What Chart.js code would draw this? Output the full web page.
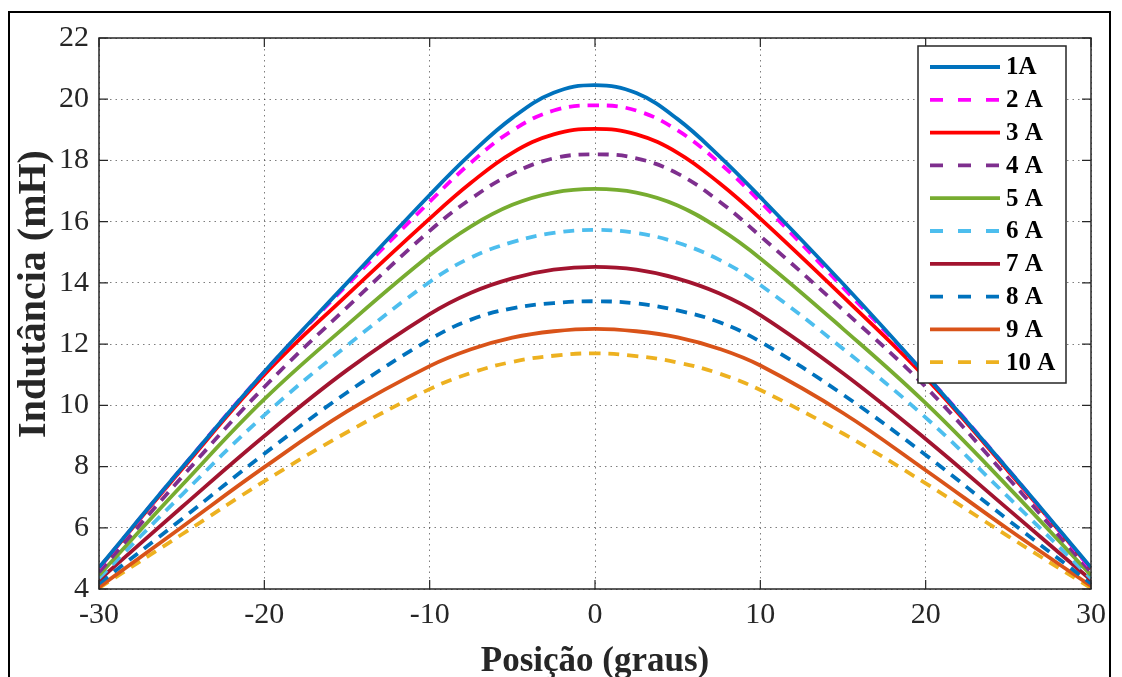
<!DOCTYPE html>
<html>
<head>
<meta charset="utf-8">
<script src="https://cdn.jsdelivr.net/npm/chart.js@4.4.1/dist/chart.umd.min.js"></script>
<style>
  html, body { margin: 0; padding: 0; background: #fff; }
  #wrap { position: relative; width: 1122px; height: 677px; }
</style>
</head>
<body>
<div id="wrap"><canvas id="inductanceChart" width="1122" height="677"></canvas></div>
<script>
// rotor position (degrees)
const positions = [-30, -25, -20, -15, -10, -7.5, -5, -2.5, 0, 2.5, 5, 7.5, 10, 15, 20, 25, 30];

// inductance (mH) per current level
const ind1A  = [4.70, 7.95, 11.10, 14.00, 16.87, 18.22, 19.39, 20.21, 20.46, 20.20, 19.35, 18.15, 16.80, 13.97, 11.00, 7.90, 4.70];
const ind2A  = [4.68, 7.95, 11.10, 13.93, 16.65, 17.93, 18.98, 19.63, 19.80, 19.63, 18.98, 17.93, 16.65, 13.85, 11.00, 7.90, 4.65];
const ind3A  = [4.68, 7.90, 11.00, 13.60, 16.10, 17.27, 18.25, 18.85, 19.03, 18.85, 18.25, 17.27, 16.10, 13.55, 10.90, 7.85, 4.68];
const ind4A  = [4.55, 7.65, 10.60, 13.20, 15.70, 16.75, 17.57, 18.07, 18.20, 18.07, 17.57, 16.67, 15.53, 13.12, 10.60, 7.62, 4.55];
const ind5A  = [4.45, 7.38, 10.20, 12.62, 14.90, 15.85, 16.55, 16.95, 17.07, 16.95, 16.53, 15.78, 14.80, 12.50, 10.07, 7.33, 4.45];
const ind6A  = [4.35, 7.07, 9.68, 11.95, 14.03, 14.83, 15.33, 15.63, 15.73, 15.63, 15.31, 14.76, 13.93, 11.85, 9.60, 7.00, 4.35];
const ind7A  = [4.29, 6.67, 9.00, 11.15, 12.98, 13.68, 14.15, 14.43, 14.52, 14.43, 14.14, 13.66, 12.95, 11.05, 8.90, 6.60, 4.29];
const ind8A  = [4.18, 6.28, 8.42, 10.42, 12.15, 12.80, 13.17, 13.34, 13.40, 13.33, 13.10, 12.72, 12.08, 10.35, 8.38, 6.25, 4.18];
const ind9A  = [4.06, 6.02, 7.98, 9.80, 11.28, 11.83, 12.21, 12.42, 12.50, 12.42, 12.22, 11.85, 11.30, 9.75, 7.88, 5.95, 4.10];
const ind10A = [4.03, 5.78, 7.52, 9.12, 10.53, 11.06, 11.42, 11.62, 11.70, 11.61, 11.40, 11.04, 10.50, 9.08, 7.45, 5.72, 4.03];

const seriesLabels = ['1A', '2 A', '3 A', '4 A', '5 A', '6 A', '7 A', '8 A', '9 A', '10 A'];
const seriesValues = [ind1A, ind2A, ind3A, ind4A, ind5A, ind6A, ind7A, ind8A, ind9A, ind10A];
const seriesColors = ['#0072BD', '#FF00FF', '#FF0000', '#7E2F8E', '#77AC30',
                      '#4DBEEE', '#A2142F', '#0072BD', '#D95319', '#EDB120'];
const seriesDashed = [false, true, false, true, false, true, false, true, false, true];

const xTicks = [-30, -20, -10, 0, 10, 20, 30];
const yTicks = [4, 6, 8, 10, 12, 14, 16, 18, 20, 22];

const AXIS_COLOR = '#262626';
const SERIF = '"Liberation Serif", "Times New Roman", serif';

const datasets = seriesLabels.map((label, i) => ({
    label: label,
    data: positions.map((x, j) => ({ x: x, y: seriesValues[i][j] })),
    borderColor: seriesColors[i],
    backgroundColor: seriesColors[i],
    borderWidth: 3.8,
    borderDash: seriesDashed[i] ? [11, 8] : [],
    pointRadius: 0,
    tension: 0.4,
    fill: false
}));

// white page + outer figure frame
const pageFrame = {
    id: 'pageFrame',
    beforeDraw(chart) {
        const c = chart.ctx;
        c.save();
        c.fillStyle = '#fff';
        c.fillRect(0, 0, chart.width, chart.height);
        c.strokeStyle = '#000';
        c.lineWidth = 2;
        c.strokeRect(9, 12, 1101, 720);
        c.restore();
    }
};

// matlab style box with inward ticks
const axesBox = {
    id: 'axesBox',
    afterDatasetsDraw(chart) {
        const c = chart.ctx;
        const a = chart.chartArea;
        const xs = chart.scales.x, ys = chart.scales.y;
        const len = 9;
        c.save();
        c.strokeStyle = AXIS_COLOR;
        c.lineWidth = 1.5;
        c.strokeRect(a.left, a.top, a.right - a.left, a.bottom - a.top);
        c.lineWidth = 1.2;
        c.beginPath();
        xTicks.forEach(t => {
            const px = xs.getPixelForValue(t);
            c.moveTo(px, a.bottom); c.lineTo(px, a.bottom - len);
            c.moveTo(px, a.top); c.lineTo(px, a.top + len);
        });
        yTicks.forEach(t => {
            const py = ys.getPixelForValue(t);
            c.moveTo(a.left, py); c.lineTo(a.left + len, py);
            c.moveTo(a.right, py); c.lineTo(a.right - len, py);
        });
        c.stroke();

        // y axis title, drawn by hand to match its taller lettering
        c.translate(35, 294);
        c.rotate(-Math.PI / 2);
        c.font = 'bold 40px ' + SERIF;
        c.fillStyle = AXIS_COLOR;
        c.textAlign = 'center';
        c.textBaseline = 'middle';
        c.fillText('Indutância (mH)', 0, 0);
        c.restore();
    }
};

// legend box inside the plot, top right
const boxLegend = {
    id: 'boxLegend',
    afterDraw(chart) {
        const c = chart.ctx;
        const left = 918, top = 46, w = 148, h = 337;
        c.save();
        c.fillStyle = '#fff';
        c.fillRect(left, top, w, h);
        c.strokeStyle = AXIS_COLOR;
        c.lineWidth = 1.5;
        c.strokeRect(left, top, w, h);
        c.font = 'bold 25px ' + SERIF;
        c.textBaseline = 'middle';
        c.fillStyle = '#000';
        chart.data.datasets.forEach((ds, i) => {
            const y = 67 + i * 32.8;
            c.strokeStyle = ds.borderColor;
            c.lineWidth = 3.8;
            c.setLineDash(seriesDashed[i] ? [13, 15] : []);
            c.beginPath();
            c.moveTo(930, y);
            c.lineTo(1000, y);
            c.stroke();
            c.setLineDash([]);
            c.fillText(ds.label, 1006, y + 1);
        });
        c.restore();
    }
};

new Chart(document.getElementById('inductanceChart'), {
    type: 'line',
    data: { datasets: datasets },
    plugins: [pageFrame, axesBox, boxLegend],
    options: {
        responsive: false,
        animation: false,
        layout: { padding: { left: 10, top: 38, right: 31, bottom: 0 } },
        plugins: {
            legend: { display: false },
            tooltip: { enabled: false }
        },
        scales: {
            x: {
                type: 'linear',
                min: -30,
                max: 30,
                afterBuildTicks: (scale) => { scale.ticks = xTicks.map(v => ({ value: v })); },
                afterFit: (scale) => { scale.height = 88; },
                ticks: {
                    color: AXIS_COLOR,
                    font: { family: SERIF, size: 30 },
                    padding: 8,
                    maxRotation: 0
                },
                grid: {
                    color: 'rgba(40,40,40,0.6)',
                    lineWidth: 1,
                    drawTicks: false
                },
                border: { display: false, dash: [1.5, 4] },
                title: {
                    display: true,
                    text: 'Posição (graus)',
                    color: AXIS_COLOR,
                    font: { family: SERIF, size: 35, weight: 'bold' },
                    padding: { top: 0, bottom: -6 }
                }
            },
            y: {
                type: 'linear',
                min: 4,
                max: 22,
                afterBuildTicks: (scale) => { scale.ticks = yTicks.map(v => ({ value: v })); },
                afterFit: (scale) => { scale.width = 89; },
                ticks: {
                    color: AXIS_COLOR,
                    font: { family: SERIF, size: 30 },
                    padding: 10
                },
                grid: {
                    color: 'rgba(40,40,40,0.6)',
                    lineWidth: 1,
                    drawTicks: false
                },
                border: { display: false, dash: [1.5, 4] },
                title: { display: false }
            }
        }
    }
});
</script>
</body>
</html>
